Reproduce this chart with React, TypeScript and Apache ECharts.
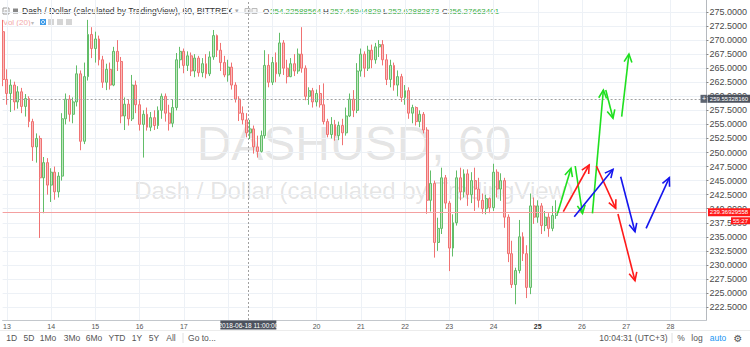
import React, { useEffect, useRef } from 'react';
import * as echarts from 'echarts';

// ---- data ----
const startDay = 12 + 22 / 24; // 12th 22:00, 2-hour candles
const stepDays = 2 / 24;
// [open, close, low, high]
const candles: number[][] = [
  [271.5, 263.0, 261.8, 273.6], [263.0, 260.5, 258.5, 264.8], [260.5, 262.0, 257.2, 263.0], [262.0, 259.0, 257.5, 262.6],
  [259.0, 260.8, 257.8, 261.8], [260.8, 258.2, 257.0, 261.5], [258.2, 259.6, 256.4, 260.4], [259.6, 255.5, 254.5, 260.0],
  [255.5, 251.0, 248.5, 256.0], [251.0, 252.5, 248.2, 253.4], [252.5, 245.5, 234.8, 253.0], [245.5, 248.2, 239.2, 249.2],
  [248.2, 244.2, 242.5, 249.0], [244.2, 246.5, 241.2, 247.2], [246.5, 243.0, 241.6, 247.5], [243.0, 245.8, 242.0, 246.5],
  [245.8, 256.0, 245.0, 257.0], [256.0, 259.5, 255.0, 260.5], [259.5, 256.8, 255.5, 260.2], [256.8, 259.0, 255.2, 259.8],
  [259.0, 264.0, 258.2, 265.5], [264.0, 252.0, 250.4, 264.6], [252.0, 263.5, 251.5, 266.0], [263.5, 271.0, 262.8, 273.6],
  [271.0, 268.5, 266.8, 272.3], [268.5, 270.2, 266.0, 271.5], [270.2, 266.5, 265.5, 270.8], [266.5, 262.5, 261.5, 267.2],
  [262.5, 264.8, 261.1, 265.8], [264.8, 262.0, 261.2, 266.0], [262.0, 268.0, 261.8, 268.8], [268.0, 266.2, 264.5, 270.0],
  [266.2, 256.5, 255.2, 267.0], [256.5, 258.6, 254.0, 259.8], [258.6, 256.0, 254.8, 259.5], [256.0, 262.0, 255.6, 263.8],
  [262.0, 258.5, 257.0, 262.8], [258.5, 255.0, 253.9, 259.3], [255.0, 256.8, 249.1, 257.5], [256.8, 254.5, 253.9, 258.0],
  [254.5, 256.2, 253.8, 257.2], [256.2, 254.8, 254.0, 257.5], [254.8, 257.5, 254.2, 258.2], [257.5, 260.0, 256.0, 260.5],
  [260.0, 257.0, 255.5, 260.5], [257.0, 255.2, 253.9, 258.5], [255.2, 258.0, 254.5, 259.5], [258.0, 266.5, 257.5, 267.7],
  [266.5, 268.0, 265.0, 268.8], [268.0, 265.5, 264.1, 268.5], [265.5, 267.2, 264.5, 268.0], [267.2, 264.5, 263.6, 267.8],
  [264.5, 266.8, 263.4, 267.5], [266.8, 264.2, 263.5, 267.2], [264.2, 265.8, 263.4, 266.8], [265.8, 264.0, 263.2, 267.5],
  [264.0, 267.0, 263.6, 268.0], [267.0, 270.8, 266.5, 271.8], [270.8, 268.2, 267.0, 271.0], [268.2, 266.0, 264.5, 269.5],
  [266.0, 263.8, 263.4, 267.2], [263.8, 265.2, 262.6, 266.5], [265.2, 262.0, 261.2, 266.0], [262.0, 259.5, 258.9, 262.5],
  [259.5, 257.0, 255.6, 260.0], [257.0, 255.8, 255.0, 258.2], [255.8, 253.5, 252.7, 257.0], [253.5, 254.2, 252.4, 255.8],
  [254.2, 251.0, 249.8, 254.8], [251.0, 250.2, 249.1, 253.0], [250.2, 253.0, 250.0, 253.9], [253.0, 265.5, 252.5, 268.2],
  [265.5, 262.5, 261.6, 267.5], [262.5, 266.0, 262.0, 267.0], [266.0, 264.0, 262.5, 267.8], [264.0, 269.5, 263.5, 271.3],
  [269.5, 265.0, 263.8, 270.0], [265.0, 263.5, 262.3, 266.5], [263.5, 265.8, 263.4, 266.8], [265.8, 264.5, 263.6, 267.5],
  [264.5, 267.5, 264.0, 268.5], [267.5, 265.0, 264.2, 272.3], [265.0, 260.0, 259.3, 265.5], [260.0, 261.0, 258.5, 261.6],
  [261.0, 259.0, 258.0, 261.5], [259.0, 260.5, 258.2, 261.2], [260.5, 258.5, 258.0, 262.0], [258.5, 255.5, 255.0, 262.3],
  [255.5, 253.2, 252.7, 256.0], [253.2, 255.0, 252.5, 256.3], [255.0, 253.0, 252.1, 255.8], [253.0, 254.8, 252.2, 255.5],
  [254.8, 253.5, 251.3, 256.0], [253.5, 256.5, 253.0, 258.0], [256.5, 259.5, 256.3, 260.5], [259.5, 257.5, 256.3, 261.1],
  [257.5, 264.5, 257.0, 265.9], [264.5, 267.5, 263.5, 268.5], [267.5, 265.0, 263.4, 268.0], [265.0, 268.2, 264.5, 269.0],
  [268.2, 266.5, 265.0, 269.2], [266.5, 268.8, 265.8, 269.5], [268.8, 269.2, 267.0, 270.0], [269.2, 266.5, 265.5, 270.0],
  [266.5, 263.0, 262.0, 267.5], [263.0, 265.5, 261.6, 266.5], [265.5, 262.0, 261.0, 266.0], [262.0, 263.5, 260.0, 264.6],
  [263.5, 259.8, 259.0, 264.0], [259.8, 261.0, 258.5, 262.0], [261.0, 257.0, 256.0, 261.6], [257.0, 258.0, 255.2, 258.5],
  [258.0, 255.5, 254.8, 258.2], [255.5, 256.8, 254.5, 257.5], [256.8, 254.0, 253.4, 257.2], [254.0, 241.5, 239.1, 254.5],
  [241.5, 244.5, 239.5, 246.8], [244.5, 234.0, 231.3, 245.0], [234.0, 236.5, 232.5, 238.4], [236.5, 245.5, 235.5, 247.3],
  [245.5, 241.0, 240.0, 246.0], [241.0, 233.0, 228.9, 241.4], [233.0, 237.5, 231.5, 239.0], [237.5, 245.5, 237.0, 246.8],
  [245.5, 243.0, 241.5, 247.3], [243.0, 246.2, 242.0, 247.0], [246.2, 242.5, 240.5, 247.0], [242.5, 245.0, 241.0, 246.5],
  [245.0, 243.5, 239.6, 247.3], [243.5, 241.5, 240.2, 245.5], [241.5, 240.0, 239.1, 242.7], [240.0, 241.8, 239.0, 242.5],
  [241.8, 240.2, 239.2, 242.0], [240.2, 246.5, 239.6, 248.0], [246.5, 243.5, 242.0, 247.0], [243.5, 245.0, 241.4, 246.3],
  [245.0, 238.5, 236.6, 245.5], [238.5, 232.0, 230.5, 239.0], [232.0, 226.5, 225.9, 234.3], [226.5, 229.0, 223.0, 229.5],
  [229.0, 235.0, 228.5, 238.0], [235.0, 232.0, 230.7, 235.8], [232.0, 226.0, 224.1, 233.5], [226.0, 240.5, 224.8, 242.7],
  [240.5, 238.5, 237.3, 242.0], [238.5, 240.5, 237.5, 241.5], [240.5, 237.0, 235.5, 241.0], [237.0, 238.5, 236.0, 239.6],
  [238.5, 236.5, 235.0, 239.2], [236.5, 238.8, 236.0, 240.5], [238.8, 239.37, 238.2, 241.5],
];

// hand-drawn forecast arrows: [fromDay, fromPrice, toDay, toPrice]
const greenArrows: number[][] = [
  [25.449, 239.18, 25.751, 247.19],
  [25.847, 247.6, 26.011, 239.18],
  [26.236, 239.18, 26.483, 261.12],
  [26.537, 261.12, 26.701, 256.09],
  [26.897, 256.37, 27.061, 267.53],
];
const redArrows: number[][] = [
  [25.578, 239.47, 26.162, 247.78],
  [26.326, 247.6, 26.762, 240.07],
  [26.813, 239.06, 27.198, 227.19],
];
const blueArrows: number[][] = [
  [25.825, 238.58, 26.701, 247.01],
  [26.874, 245.69, 27.198, 235.91],
  [27.449, 236.51, 27.975, 245.52],
];

const dayTicks = [13, 14, 15, 16, 17, 18, 19, 20, 21, 22, 23, 24, 25, 26, 27, 28];
const dayLabels = [13, 14, 15, 16, 17, 20, 21, 22, 23, 24, 25, 26, 27, 28];
const priceTicks = [222.5, 225, 227.5, 230, 232.5, 235, 237.5, 240, 242.5, 245, 247.5, 250, 252.5, 255, 257.5, 260, 262.5, 265, 267.5, 270, 272.5, 275];

const lastPrice = 239.36929558;
const lastPriceText = '239.36929558';
const countdownText = '55:27';
const crossPrice = 259.5532816;
const crossPriceText = '259.55328160';
const crossDay = 18 + 11 / 24;
const crossDayText = '2018-06-18 11:00:00';
const headerTitle = 'Dash / Dollar (calculated by TradingView), 60, BITTREX';
const headerOHLC = [
  ['O', '254.22588564'],
  ['H', '257.45944829'],
  ['L', '252.62882873'],
  ['C', '256.27663401'],
];
const rangeButtons = ['1D', '5D', '1Mo', '3Mo', '6Mo', 'YTD', '1Y', '5Y', 'All'];

const FONT = '"Liberation Sans", Arial, sans-serif';

export default function App() {
  const ref = useRef<HTMLDivElement>(null);
  useEffect(() => {
    document.body.style.margin = '0';
    const chart = echarts.init(ref.current!, null, { renderer: 'svg' });
    const xMin = 12.9034, xMax = 28.8135, yMin = 220.2, yMax = 277.135;

    const candleData = candles.map((c, i) => [startDay + i * stepDays, c[0], c[1], c[2], c[3]]);

    const arrowSeries = (arr: number[][], color: string) => ({
      type: 'custom',
      coordinateSystem: 'cartesian2d',
      data: arr,
      encode: { x: [0, 2], y: [1, 3] },
      silent: true,
      z: 5,
      clip: false,
      renderItem: (_p: any, api: any) => {
        const a = api.coord([api.value(0), api.value(1)]);
        const b = api.coord([api.value(2), api.value(3)]);
        const ang = Math.atan2(b[1] - a[1], b[0] - a[0]);
        const L = 9, s = 0.45;
        const h1 = [b[0] - L * Math.cos(ang - s), b[1] - L * Math.sin(ang - s)];
        const h2 = [b[0] - L * Math.cos(ang + s), b[1] - L * Math.sin(ang + s)];
        return {
          type: 'group',
          children: [
            { type: 'line', shape: { x1: a[0], y1: a[1], x2: b[0], y2: b[1] }, style: { stroke: color, lineWidth: 1.6 } },
            { type: 'polyline', shape: { points: [h1, b, h2] }, style: { stroke: color, lineWidth: 1.6, fill: 'none' } },
          ],
        };
      },
    });

    const headerGraphics: any[] = [
      { type: 'rect', shape: { x: 3, y: 8, width: 6, height: 6 }, style: { stroke: '#999', fill: '#fff', lineWidth: 1 } },
      { type: 'line', shape: { x1: 4.5, y1: 11, x2: 7.5, y2: 11 }, style: { stroke: '#999', lineWidth: 1 } },
      { type: 'rect', shape: { x: 13, y: 8.5, width: 5, height: 5 }, style: { fill: '#888' } },
      { type: 'text', x: 22, y: 11, style: { text: headerTitle, fill: '#333', fontSize: 8.5, fontFamily: FONT, verticalAlign: 'middle' } },
      { type: 'text', x: 235, y: 11, style: { text: '▾', fill: '#aaa', fontSize: 7, fontFamily: 'DejaVu Sans', verticalAlign: 'middle' } },
      { type: 'rect', shape: { x: 245, y: 8.5, width: 5, height: 5 }, style: { stroke: '#bbb', fill: '#f4f4f4', lineWidth: 1 } },
      { type: 'rect', shape: { x: 252, y: 8.5, width: 5, height: 5 }, style: { stroke: '#bbb', fill: '#f4f4f4', lineWidth: 1 } },
      { type: 'text', x: 3, y: 22, style: { text: 'Vol (20)', fill: '#f2aaaa', fontSize: 8, fontFamily: FONT, verticalAlign: 'middle' } },
      { type: 'text', x: 31, y: 22, style: { text: '▾', fill: '#bbb', fontSize: 6, fontFamily: 'DejaVu Sans', verticalAlign: 'middle' } },
      { type: 'rect', shape: { x: 40, y: 19, width: 6, height: 6 }, style: { fill: '#3d9be9' } },
      { type: 'circle', shape: { cx: 43, cy: 22, r: 1.6 }, style: { stroke: '#fff', fill: 'none', lineWidth: 0.8 } },
      { type: 'rect', shape: { x: 48, y: 19, width: 6, height: 6 }, style: { fill: '#d5d5d5' } },
      { type: 'rect', shape: { x: 57, y: 19, width: 6, height: 6 }, style: { fill: '#d5d5d5' } },
      { type: 'rect', shape: { x: 66, y: 19, width: 6, height: 6 }, style: { fill: '#d5d5d5' } },
    ];
    const ohlcX = [[263, 270], [323, 330], [383, 388], [442, 448]];
    headerOHLC.forEach((h, i) => {
      headerGraphics.push({ type: 'text', x: ohlcX[i][0], y: 11, style: { text: h[0], fill: '#333', fontSize: 8, fontFamily: FONT, verticalAlign: 'middle' } });
      headerGraphics.push({ type: 'text', x: ohlcX[i][1], y: 11, style: { text: h[1], fill: '#3aae45', fontSize: 8, fontFamily: FONT, verticalAlign: 'middle' } });
    });

    const watermark: any[] = [
      { type: 'text', x: 354, y: 143, z: -1, style: { text: 'DASHUSD, 60', fill: 'rgba(120,120,120,0.2)', fontSize: 48, fontFamily: FONT, align: 'center', verticalAlign: 'middle' } },
      { type: 'text', x: 354, y: 190, z: -1, style: { text: 'Dash / Dollar (calculated by TradingView)', fill: 'rgba(120,120,120,0.2)', fontSize: 24, fontFamily: FONT, align: 'center', verticalAlign: 'middle' } },
    ];

    const btnX = [11.7, 29, 48, 72, 94, 117, 137, 154, 171];
    const toolbar: any[] = [
      { type: 'line', shape: { x1: 0, y1: 330.5, x2: 750, y2: 330.5 }, style: { stroke: '#ececec', lineWidth: 1 } },
      { type: 'line', shape: { x1: 183, y1: 333, x2: 183, y2: 343 }, style: { stroke: '#e0e0e0', lineWidth: 1 } },
      { type: 'line', shape: { x1: 672, y1: 333, x2: 672, y2: 343 }, style: { stroke: '#e0e0e0', lineWidth: 1 } },
      { type: 'text', x: 202, y: 338, style: { text: 'Go to...', fill: '#555', fontSize: 8.5, fontFamily: FONT, align: 'center', verticalAlign: 'middle' } },
      { type: 'text', x: 633.5, y: 338, style: { text: '10:04:31 (UTC+3)', fill: '#555', fontSize: 8.5, fontFamily: FONT, align: 'center', verticalAlign: 'middle' } },
      { type: 'text', x: 681, y: 338, style: { text: '%', fill: '#555', fontSize: 8.5, fontFamily: FONT, align: 'center', verticalAlign: 'middle' } },
      { type: 'text', x: 697, y: 338, style: { text: 'log', fill: '#555', fontSize: 8.5, fontFamily: FONT, align: 'center', verticalAlign: 'middle' } },
      { type: 'text', x: 718, y: 338, style: { text: 'auto', fill: '#2196f3', fontSize: 8.5, fontFamily: FONT, align: 'center', verticalAlign: 'middle' } },
      { type: 'text', x: 738, y: 338, style: { text: '⚙', fill: '#555', fontSize: 10, fontFamily: 'DejaVu Sans', align: 'center', verticalAlign: 'middle' } },
    ];
    rangeButtons.forEach((b, i) => {
      toolbar.push({ type: 'text', x: btnX[i], y: 338, style: { text: b, fill: '#555', fontSize: 8.5, fontFamily: FONT, align: 'center', verticalAlign: 'middle' } });
    });

    chart.setOption({
      animation: false,
      backgroundColor: '#fff',
      textStyle: { fontFamily: FONT },
      grid: { left: 0, right: 42, top: 0, bottom: 27, containLabel: false },
      xAxis: {
        type: 'value', min: xMin, max: xMax,
        axisLine: { show: true, lineStyle: { color: '#c3c7cc' } },
        axisTick: { show: false, customValues: dayTicks },
        axisLabel: {
          customValues: dayLabels, fontSize: 7, color: '#555', margin: 3,
          formatter: (v: number) => (v === 25 ? '{b|25}' : String(v)),
          rich: { b: { fontWeight: 'bold', fontSize: 7, color: '#333' } },
        },
        splitLine: { show: true, lineStyle: { color: '#edf1f6', width: 1 } },
      },
      yAxis: {
        type: 'value', position: 'right', min: yMin, max: yMax, scale: true,
        axisLine: { show: true, lineStyle: { color: '#b5b9be' } },
        axisTick: { show: true, customValues: priceTicks, length: 2, lineStyle: { color: '#888' } },
        axisLabel: { customValues: priceTicks, formatter: (v: number) => v.toFixed(4), fontSize: 9, color: '#4a4a4a', margin: 3 },
        splitLine: { show: true, lineStyle: { color: '#edf1f6', width: 1 } },
      },
      series: [
        {
          type: 'candlestick',
          data: candleData,
          encode: { x: 0, y: [1, 2, 3, 4] },
          barWidth: 2.4,
          itemStyle: { color: '#bfe6bf', color0: '#f9bcbc', borderColor: '#62bd68', borderColor0: '#f07272', borderWidth: 1 },
          markLine: {
            silent: true, symbol: 'none', label: { show: false }, animation: false,
            data: [
              { yAxis: lastPrice, lineStyle: { color: '#f4a0a0', type: 'solid', width: 1 } },
              { yAxis: crossPrice, lineStyle: { color: '#a0a0a0', type: [2, 2], width: 1 } },
              { xAxis: crossDay, lineStyle: { color: '#a0a0a0', type: [2, 2], width: 1 } },
            ],
          },
        },
        arrowSeries(greenArrows, '#1fe01f'),
        arrowSeries(redArrows, '#ff1a1a'),
        arrowSeries(blueArrows, '#1515ee'),
      ],
      graphic: [...watermark, ...headerGraphics, ...toolbar],
    });

    const yLast = chart.convertToPixel({ gridIndex: 0 }, [xMin, lastPrice])[1];
    const yCross = chart.convertToPixel({ gridIndex: 0 }, [xMin, crossPrice])[1];
    const xCross = chart.convertToPixel({ gridIndex: 0 }, [crossDay, yMin])[0];
    const tags: any[] = [
      { type: 'rect', z: 100, shape: { x: 708, y: yCross - 4, width: 42, height: 8 }, style: { fill: '#4c525e' } },
      { type: 'text', z: 101, x: 729, y: yCross, style: { text: crossPriceText, fill: '#fff', fontSize: 6, fontFamily: FONT, align: 'center', verticalAlign: 'middle' } },
      { type: 'rect', z: 100, shape: { x: 700.5, y: yCross - 4, width: 7, height: 8 }, style: { fill: '#5d6470' } },
      { type: 'text', z: 101, x: 704, y: yCross, style: { text: '+', fill: '#fff', fontSize: 7, fontFamily: FONT, align: 'center', verticalAlign: 'middle' } },
      { type: 'rect', z: 100, shape: { x: 708, y: yLast - 4, width: 42, height: 8 }, style: { fill: '#ff1a1a' } },
      { type: 'text', z: 101, x: 729, y: yLast, style: { text: lastPriceText, fill: '#fff', fontSize: 6, fontFamily: FONT, align: 'center', verticalAlign: 'middle' } },
      { type: 'rect', z: 100, shape: { x: 731, y: yLast + 5, width: 19, height: 7 }, style: { fill: '#ff1a1a' } },
      { type: 'text', z: 101, x: 740.5, y: yLast + 8.5, style: { text: countdownText, fill: '#fff', fontSize: 6, fontFamily: FONT, align: 'center', verticalAlign: 'middle' } },
      { type: 'rect', z: 100, shape: { x: xCross - 28, y: 320.5, width: 56, height: 9 }, style: { fill: '#4c525e' } },
      { type: 'text', z: 101, x: xCross, y: 325, style: { text: crossDayText, fill: '#fff', fontSize: 6.5, fontFamily: FONT, align: 'center', verticalAlign: 'middle' } },
    ];
    chart.setOption({ graphic: [...watermark, ...headerGraphics, ...toolbar, ...tags] });

    return () => chart.dispose();
  }, []);
  return <div ref={ref} style={{ width: 750, height: 347, position: 'absolute', left: 0, top: 0 }} />;
}
